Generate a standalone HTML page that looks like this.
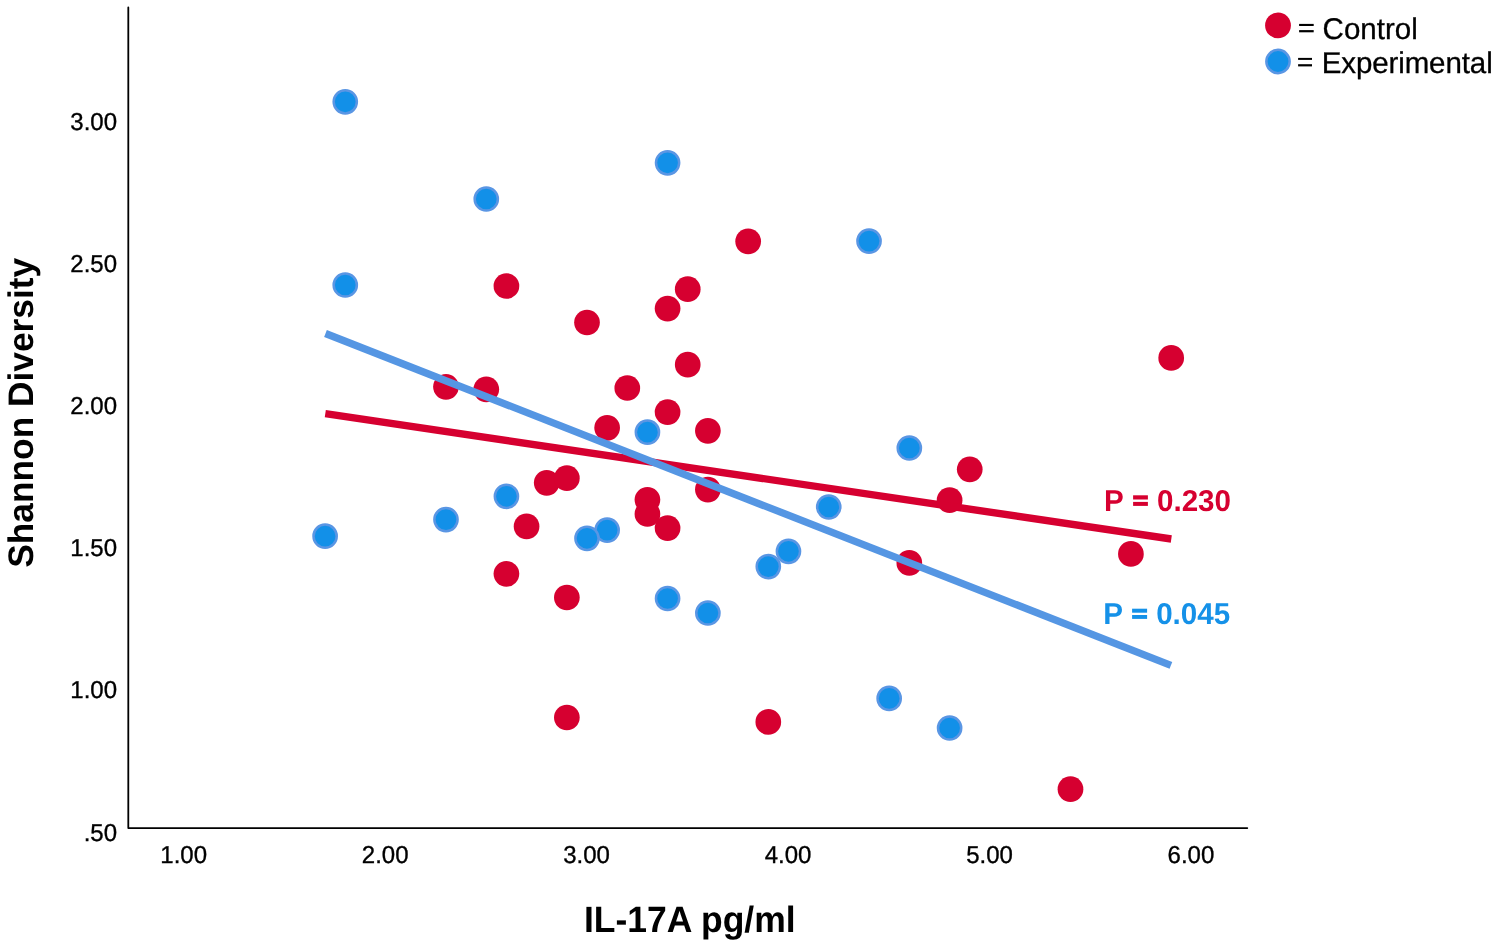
<!DOCTYPE html>
<html><head><meta charset="utf-8"><style>
html,body{margin:0;padding:0;background:#fff;}
svg{display:block;will-change:transform;text-rendering:geometricPrecision;font-family:"Liberation Sans",sans-serif;}
</style></head><body>
<svg width="1498" height="945" viewBox="0 0 1498 945">
<rect width="1498" height="945" fill="#fff"/>
<path d="M128.3 7.5 V828.1 H1247.3" fill="none" stroke="#000" stroke-width="1.8" stroke-linejoin="round" stroke-linecap="round"/>
<g font-size="24" fill="#000" stroke="#000" stroke-width="0.35">
<text transform="translate(183.70 863.10) scale(1 1.02)" text-anchor="middle">1.00</text>
<text transform="translate(385.15 863.10) scale(1 1.02)" text-anchor="middle">2.00</text>
<text transform="translate(586.60 863.10) scale(1 1.02)" text-anchor="middle">3.00</text>
<text transform="translate(788.05 863.10) scale(1 1.02)" text-anchor="middle">4.00</text>
<text transform="translate(989.50 863.10) scale(1 1.02)" text-anchor="middle">5.00</text>
<text transform="translate(1190.95 863.10) scale(1 1.02)" text-anchor="middle">6.00</text>
<text transform="translate(117.00 130.25) scale(1 1.02)" text-anchor="end">3.00</text>
<text transform="translate(117.00 272.30) scale(1 1.02)" text-anchor="end">2.50</text>
<text transform="translate(117.00 414.35) scale(1 1.02)" text-anchor="end">2.00</text>
<text transform="translate(117.00 556.40) scale(1 1.02)" text-anchor="end">1.50</text>
<text transform="translate(117.00 698.45) scale(1 1.02)" text-anchor="end">1.00</text>
<text transform="translate(117.00 840.50) scale(1 1.02)" text-anchor="end">.50</text>
</g>
<circle cx="748.16" cy="241.4" r="12.85" fill="#D60030"/>
<circle cx="506.42" cy="286.0" r="12.85" fill="#D60030"/>
<circle cx="687.73" cy="289.2" r="12.85" fill="#D60030"/>
<circle cx="667.58" cy="308.6" r="12.85" fill="#D60030"/>
<circle cx="587.00" cy="322.5" r="12.85" fill="#D60030"/>
<circle cx="687.73" cy="364.7" r="12.85" fill="#D60030"/>
<circle cx="1171.20" cy="357.9" r="12.85" fill="#D60030"/>
<circle cx="445.98" cy="386.8" r="12.85" fill="#D60030"/>
<circle cx="486.27" cy="389.3" r="12.85" fill="#D60030"/>
<circle cx="627.29" cy="388.0" r="12.85" fill="#D60030"/>
<circle cx="667.58" cy="412.1" r="12.85" fill="#D60030"/>
<circle cx="607.14" cy="427.8" r="12.85" fill="#D60030"/>
<circle cx="707.87" cy="430.8" r="12.85" fill="#D60030"/>
<circle cx="969.75" cy="469.3" r="12.85" fill="#D60030"/>
<circle cx="546.71" cy="482.8" r="12.85" fill="#D60030"/>
<circle cx="566.85" cy="478.2" r="12.85" fill="#D60030"/>
<circle cx="707.87" cy="489.6" r="12.85" fill="#D60030"/>
<circle cx="647.43" cy="499.8" r="12.85" fill="#D60030"/>
<circle cx="949.61" cy="500.2" r="12.85" fill="#D60030"/>
<circle cx="647.43" cy="513.9" r="12.85" fill="#D60030"/>
<circle cx="526.57" cy="526.4" r="12.85" fill="#D60030"/>
<circle cx="667.58" cy="528.1" r="12.85" fill="#D60030"/>
<circle cx="1130.91" cy="553.9" r="12.85" fill="#D60030"/>
<circle cx="909.32" cy="562.9" r="12.85" fill="#D60030"/>
<circle cx="506.42" cy="573.8" r="12.85" fill="#D60030"/>
<circle cx="566.85" cy="597.5" r="12.85" fill="#D60030"/>
<circle cx="566.85" cy="717.5" r="12.85" fill="#D60030"/>
<circle cx="768.30" cy="721.9" r="12.85" fill="#D60030"/>
<circle cx="1070.48" cy="789.2" r="12.85" fill="#D60030"/>
<circle cx="345.26" cy="101.8" r="11.6" fill="#1290E8" stroke="#5A96E4" stroke-width="2.5"/>
<circle cx="667.58" cy="162.8" r="11.6" fill="#1290E8" stroke="#5A96E4" stroke-width="2.5"/>
<circle cx="486.27" cy="199.0" r="11.6" fill="#1290E8" stroke="#5A96E4" stroke-width="2.5"/>
<circle cx="869.03" cy="241.1" r="11.6" fill="#1290E8" stroke="#5A96E4" stroke-width="2.5"/>
<circle cx="345.26" cy="285.0" r="11.6" fill="#1290E8" stroke="#5A96E4" stroke-width="2.5"/>
<circle cx="647.43" cy="432.2" r="11.6" fill="#1290E8" stroke="#5A96E4" stroke-width="2.5"/>
<circle cx="909.32" cy="448.0" r="11.6" fill="#1290E8" stroke="#5A96E4" stroke-width="2.5"/>
<circle cx="506.42" cy="496.3" r="11.6" fill="#1290E8" stroke="#5A96E4" stroke-width="2.5"/>
<circle cx="828.74" cy="507.0" r="11.6" fill="#1290E8" stroke="#5A96E4" stroke-width="2.5"/>
<circle cx="445.98" cy="519.6" r="11.6" fill="#1290E8" stroke="#5A96E4" stroke-width="2.5"/>
<circle cx="325.12" cy="536.2" r="11.6" fill="#1290E8" stroke="#5A96E4" stroke-width="2.5"/>
<circle cx="607.14" cy="530.1" r="11.6" fill="#1290E8" stroke="#5A96E4" stroke-width="2.5"/>
<circle cx="587.00" cy="538.3" r="11.6" fill="#1290E8" stroke="#5A96E4" stroke-width="2.5"/>
<circle cx="788.45" cy="551.3" r="11.6" fill="#1290E8" stroke="#5A96E4" stroke-width="2.5"/>
<circle cx="768.30" cy="566.6" r="11.6" fill="#1290E8" stroke="#5A96E4" stroke-width="2.5"/>
<circle cx="667.58" cy="598.5" r="11.6" fill="#1290E8" stroke="#5A96E4" stroke-width="2.5"/>
<circle cx="707.87" cy="613.0" r="11.6" fill="#1290E8" stroke="#5A96E4" stroke-width="2.5"/>
<circle cx="889.17" cy="698.4" r="11.6" fill="#1290E8" stroke="#5A96E4" stroke-width="2.5"/>
<circle cx="949.61" cy="728.0" r="11.6" fill="#1290E8" stroke="#5A96E4" stroke-width="2.5"/>
<line x1="325.3" y1="413.7" x2="1171.3" y2="539.0" stroke="#D60030" stroke-width="7.4"/>
<line x1="325.5" y1="333.5" x2="1170.9" y2="665.4" stroke="#5596E3" stroke-width="7.4"/>
<g font-size="29.6" font-weight="bold">
<text transform="translate(1104.00 511.00) scale(1 1.02)" fill="#D60030">P<tspan fill="none"> = </tspan>0.230</text>
<text transform="translate(1103.20 624.00) scale(1 1.02)" fill="#1591E8">P<tspan fill="none"> = </tspan>0.045</text>
</g>
<rect x="1133.1" y="495.3" width="14.8" height="4.2" fill="#D60030"/>
<rect x="1133.1" y="501.9" width="14.8" height="4.0" fill="#D60030"/>
<rect x="1132.1" y="608.7" width="15.0" height="4.0" fill="#1591E8"/>
<rect x="1132.1" y="615.0" width="15.0" height="3.9" fill="#1591E8"/>
<g font-size="35.5" font-weight="bold">
<text transform="translate(689.80 932.20) scale(1 1.03)" text-anchor="middle">IL-17A pg/ml</text>
</g>
<g transform="translate(33.2 412.8) rotate(-90)" font-size="35.3" font-weight="bold">
<text transform="translate(0.00 0.00) scale(1 1.005)" text-anchor="middle">Shannon Diversity</text>
</g>
<circle cx="1278" cy="25.4" r="12.9" fill="#D60030"/>
<circle cx="1278" cy="61.5" r="11.65" fill="#1290E8" stroke="#5A96E4" stroke-width="2.5"/>
<g fill="#000">
<rect x="1299.1" y="23.9" width="14.6" height="2.1"/>
<rect x="1299.1" y="30.1" width="14.6" height="2.2"/>
<rect x="1298.1" y="57.9" width="13.9" height="2.0"/>
<rect x="1298.1" y="64.2" width="13.9" height="2.2"/>
</g>
<g font-size="29.5" stroke="#000" stroke-width="0.3">
<text transform="translate(1322.60 38.50) scale(1 1.015)">Control</text>
<text transform="translate(1321.70 72.70) scale(1 1.015)" textLength="171.0" lengthAdjust="spacing">Experimental</text>
</g>
</svg>
</body></html>
